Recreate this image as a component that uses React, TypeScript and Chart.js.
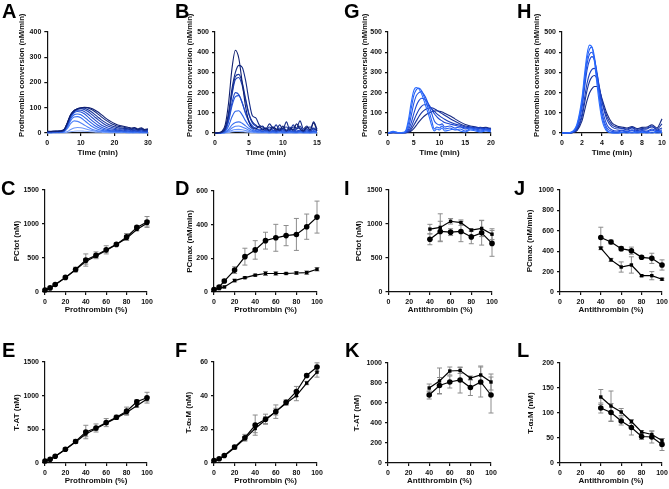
import React, { useEffect, useRef } from "react";
import { Chart, registerables } from "chart.js";
Chart.register(...registerables);

const FAMILY = "'Liberation Sans', Arial, Helvetica, 'DejaVu Sans', sans-serif";

// ---------- Panel A (prothrombin titration, time courses) ----------
const A_TIMES = [0,1,2,3,4,5,6,7,8,9,10,11,12,13,14,15,16,17,18,19,20,21,22,23,24,25,26,27,28,29,30];
const A_P5   = [0,1,0,2,1,1,3,5,7,8,8,7,6,5,4,3,3,2,2,1,2,1,1,2,1,0,1,1,0,1,0];
const A_P10  = [1,0,2,1,2,2,6,14,20,22,21,18,14,11,8,6,5,4,3,3,2,3,2,2,1,2,1,1,2,1,1];
const A_P20  = [2,1,3,2,2,4,18,38,48,46,40,32,24,17,12,9,7,6,5,4,4,3,4,3,2,3,2,3,2,2,2];
const A_P30  = [3,2,4,3,4,6,24,50,63,65,60,50,39,29,21,15,11,9,7,6,6,5,6,4,5,4,3,5,3,4,3];
const A_P40  = [4,3,5,4,3,8,28,58,72,75,72,63,52,41,31,23,17,13,10,9,8,7,8,6,7,5,6,5,4,6,4];
const A_P50  = [3,5,4,6,5,9,32,64,80,85,83,76,65,53,42,32,24,18,14,12,11,9,10,8,9,7,8,6,7,5,6];
const A_P60  = [5,4,6,5,7,10,35,68,84,90,90,85,76,65,54,43,33,26,20,17,14,12,13,10,12,9,10,8,11,7,8];
const A_P70  = [4,6,5,7,6,11,38,70,87,94,96,93,86,76,65,54,44,35,28,23,19,16,17,14,15,12,13,10,14,9,11];
const A_P80  = [6,5,7,6,8,12,40,72,88,95,98,98,93,85,75,64,53,44,36,30,25,21,20,18,17,14,16,12,15,11,13];
const A_P90  = [5,7,6,8,7,12,40,72,88,96,99,101,99,94,86,76,65,55,46,38,32,27,25,22,20,17,19,14,18,12,15];
const A_P100 = [7,6,8,7,9,14,42,74,89,96,100,102,101,98,92,84,74,63,53,45,38,32,29,26,23,20,22,16,21,14,17];
const A_SERIES = [A_P100, A_P90, A_P80, A_P70, A_P60, A_P50, A_P40, A_P30, A_P20, A_P10, A_P5];

// ---------- Panel B ----------
const B_TIMES = [0,0.5,1,1.5,2,2.5,3,3.5,4,4.5,5,5.5,6,6.5,7,7.5,8,8.5,9,9.5,10,10.5,11,11.5,12,12.5,13,13.5,14,14.5,15];
const B_1  = [0,0,0,1,3,6,8,8,7,5,4,2,1,1,1,1,0,1,0,1,0,1,0,1,0,1,0,0,1,0,0];
const B_2  = [0,0,0,2,6,13,17,18,16,12,8,5,3,2,2,2,1,2,1,2,1,1,2,1,1,2,1,1,1,2,1];
const B_3  = [0,0,1,3,11,25,33,35,30,22,14,8,5,4,3,4,2,3,2,4,2,2,3,2,2,3,2,2,1,3,2];
const B_4  = [0,0,1,4,18,40,52,55,48,35,22,12,8,6,5,6,4,5,3,6,4,3,5,4,3,5,3,4,2,5,3];
const B_5  = [0,0,2,8,35,80,108,110,90,60,35,20,12,10,8,10,6,8,5,10,6,5,8,6,4,8,5,6,4,8,5];
const B_6  = [0,1,3,12,58,135,180,185,150,100,60,35,20,15,10,15,10,12,8,15,10,8,12,10,6,12,8,10,6,12,8];
const B_7  = [0,1,3,15,65,150,200,190,150,95,55,30,25,15,20,10,20,15,10,20,15,10,15,20,10,15,5,15,10,20,10];
const B_8  = [0,1,4,20,85,190,265,275,235,160,90,50,35,30,20,25,15,30,10,25,20,15,30,10,20,25,15,20,10,25,15];
const B_9  = [0,1,4,22,90,200,280,290,250,170,95,55,40,25,35,15,30,20,40,10,25,30,15,40,20,35,10,25,30,20,15];
const B_10 = [0,1,5,25,100,220,300,335,325,260,160,85,75,40,30,20,45,25,15,40,20,55,15,30,25,60,20,35,15,55,20];
const B_11 = [0,2,8,40,150,320,410,370,250,130,55,25,20,35,15,25,10,30,20,15,35,10,25,15,45,20,10,30,15,50,10];
const B_SERIES = [B_11, B_10, B_9, B_8, B_7, B_6, B_5, B_4, B_3, B_2, B_1];

const BLUE_11 = ["#0f1f70","#132a86","#17349c","#1c3fb3","#2149c8","#2656da","#2d63e8","#3b72f2","#5284f8","#6b97fb","#88acfd"];

// ---------- Panel G (antithrombin titration) ----------
const G_TIMES = [0,1,2,3,3.5,4,4.5,5,5.5,6,6.5,7,7.5,8,8.5,9,9.5,10,10.5,11,12,13,14,15,16,17,18,19,20];
const G_AT40  = [0,8,2,3,15,70,150,210,225,218,195,160,120,80,35,10,20,15,25,10,15,20,10,5,15,10,5,10,5];
const G_AT50  = [0,5,1,2,10,50,120,185,215,222,210,180,145,105,60,20,30,25,35,20,25,15,20,10,20,15,10,15,10];
const G_AT60  = [0,4,2,1,6,30,85,145,185,200,205,190,165,130,95,60,45,40,45,30,35,25,30,20,25,20,15,20,15];
const G_AT70  = [0,3,1,2,4,18,50,95,135,160,172,170,158,138,118,95,80,68,60,52,45,38,32,25,30,20,25,15,20];
const G_AT80  = [0,2,1,1,3,10,30,60,90,115,132,140,140,132,120,108,95,85,76,68,55,45,38,30,25,30,20,25,15];
const G_AT90  = [0,3,1,2,2,6,18,38,60,82,100,112,120,124,125,120,112,104,96,88,72,58,45,35,30,25,28,20,25];
const G_AT100 = [0,2,1,1,2,4,10,22,38,55,70,83,93,100,105,108,110,108,104,98,85,70,55,42,35,30,25,28,20];
const G_SERIES = [G_AT40, G_AT50, G_AT60, G_AT70, G_AT80, G_AT90, G_AT100];

// ---------- Panel H ----------
const H_TIMES = [0,0.5,1,1.5,2,2.25,2.5,2.75,3,3.25,3.5,3.75,4,4.5,5,5.5,6,6.5,7,7.5,8,8.5,9,9.5,10];
const H_AT40  = [0,0,6,45,175,290,390,435,425,350,240,140,65,8,0,0,2,0,4,0,3,0,5,0,2];
const H_AT50  = [0,0,5,38,155,265,365,415,425,375,275,170,85,15,2,0,3,5,0,6,2,4,0,8,3];
const H_AT60  = [0,0,4,32,140,245,340,390,400,365,285,185,100,25,8,5,10,6,12,4,9,6,14,5,10];
const H_AT70  = [0,0,3,28,125,220,310,360,378,360,300,210,125,40,15,10,14,9,16,8,12,10,20,12,15];
const H_AT80  = [0,0,2,20,95,170,245,292,315,320,290,225,155,65,30,20,22,15,25,12,18,20,35,15,25];
const H_AT90  = [0,0,2,16,80,145,210,255,278,285,268,220,160,80,40,28,25,20,28,18,22,25,30,20,45];
const H_AT100 = [0,0,1,12,60,110,160,198,220,230,230,210,170,95,50,35,30,25,32,22,28,30,40,25,70];
const H_SERIES = [H_AT40, H_AT50, H_AT60, H_AT70, H_AT80, H_AT90, H_AT100];

const BLUE_7 = ["#2a6bff","#2660f5","#2254e6","#1e48d2","#1b3dba","#19339e","#172a82"];

// ---------- Summary panels ----------
const PT_LEVELS = [0,5,10,20,30,40,50,60,70,80,90,100];
const AT_LEVELS = [40,50,60,70,80,90,100];

const C_S1 = [30,60,110,215,330,470,540,620,700,810,950,1030];
const C_E1 = [5,8,10,20,35,90,50,60,20,50,20,80];
const C_S2 = [30,55,105,210,325,450,530,610,700,790,920,1010];
const C_E2 = [3,4,6,10,15,40,25,25,15,30,20,40];

const D_S1 = [15,30,65,130,210,250,305,322,335,342,388,445];
const D_E1 = [3,5,10,20,50,55,50,80,60,95,75,95];
const D_S2 = [12,20,30,68,85,100,110,110,110,113,115,135];
const D_E2 = [2,3,5,8,5,5,12,10,5,8,10,10];

const E_S1 = [30,55,100,205,320,460,520,600,680,770,910,970];
const E_E1 = [5,5,10,20,30,100,60,60,30,60,30,80];
const E_S2 = [25,50,95,200,310,430,510,590,670,750,850,950];
const E_E2 = [3,4,5,10,15,40,20,20,15,30,20,30];

const F_S1 = [1.5,2.5,4.5,9.5,15,22.5,26,30.5,36,42.5,52,57];
const F_E1 = [0.3,0.4,0.5,1,2,6,3,4,1.5,3,1,2.5];
const F_S2 = [1.2,2.2,4.2,9,14.5,20.5,25.5,30.5,35.5,40,47.5,54];
const F_E2 = [0.2,0.3,0.4,0.8,1,2.5,2,2,1,3,1,3];

const I_S1 = [925,950,1040,1020,910,935,850];
const I_E1 = [70,200,40,40,20,120,80];
const I_S2 = [775,890,880,890,810,870,715];
const I_E2 = [80,150,50,150,100,180,190];

const J_S1 = [535,490,425,405,340,330,265];
const J_E1 = [100,20,20,35,15,50,50];
const J_S2 = [430,315,245,265,160,160,125];
const J_E2 = [15,15,50,80,10,40,10];

const K_S1 = [750,820,920,925,850,880,810];
const K_E1 = [40,130,40,30,20,90,80];
const K_S2 = [680,775,810,830,755,810,680];
const K_E2 = [40,80,60,130,80,150,180];

const L_S1 = [132,114,102,83,62,57,45];
const L_E1 = [15,30,7,4,3,7,4];
const L_S2 = [110,101,84,71,53,52,37];
const L_E2 = [10,18,8,15,6,12,12];

type Summary = { x: number[]; s: number[][]; e: number[][]; styles: string[] };
type Panel = {
  L: number; T: number; R: number; B: number; tx: number; ty: number;
  xr: number[]; yr: number[]; xTitle: string; yTitle: string; yts: number; yAlign: string;
  curves?: { times: number[]; series: number[][]; colors: string[] };
  summary?: Summary;
};

const TIME = "Time (min)";
const PCONV = "Prothrombin conversion (nM/min)";
const PT = "Prothrombin (%)";
const AT = "Antithrombin (%)";

const PANELS: Panel[] = [
  { L: 47, T: 32, R: 148, B: 133, tx: 21.7, ty: 152.5, xr: [0, 30, 10], yr: [0, 400, 100], xTitle: TIME, yTitle: PCONV, yts: 7.7, yAlign: "start",
    curves: { times: A_TIMES, series: A_SERIES, colors: BLUE_11 } },
  { L: 215, T: 32, R: 317, B: 133, tx: 190, ty: 152.5, xr: [0, 15, 5], yr: [0, 500, 100], xTitle: TIME, yTitle: PCONV, yts: 7.7, yAlign: "start",
    curves: { times: B_TIMES, series: B_SERIES, colors: BLUE_11 } },
  { L: 388, T: 32, R: 491, B: 133, tx: 365, ty: 152.5, xr: [0, 20, 5], yr: [0, 500, 100], xTitle: TIME, yTitle: PCONV, yts: 7.7, yAlign: "start",
    curves: { times: G_TIMES, series: G_SERIES, colors: BLUE_7 } },
  { L: 562, T: 32, R: 662, B: 133, tx: 537, ty: 152.5, xr: [0, 10, 2], yr: [0, 500, 100], xTitle: TIME, yTitle: PCONV, yts: 7.7, yAlign: "start",
    curves: { times: H_TIMES, series: H_SERIES, colors: BLUE_7 } },

  { L: 45, T: 190, R: 147, B: 292, tx: 17, ty: 309.5, xr: [0, 100, 20], yr: [0, 1500, 500], xTitle: PT, yTitle: "PCtot (nM)", yts: 8, yAlign: "center",
    summary: { x: PT_LEVELS, s: [C_S1, C_S2], e: [C_E1, C_E2], styles: ["circle", "rect"] } },
  { L: 214, T: 191, R: 317, B: 292, tx: 190, ty: 309.5, xr: [0, 100, 20], yr: [0, 600, 200], xTitle: PT, yTitle: "PCmax (nM/min)", yts: 8, yAlign: "center",
    summary: { x: PT_LEVELS, s: [D_S1, D_S2], e: [D_E1, D_E2], styles: ["circle", "rect"] } },
  { L: 388, T: 190, R: 491, B: 292, tx: 358.5, ty: 309.5, xr: [0, 100, 20], yr: [0, 1500, 500], xTitle: AT, yTitle: "PCtot (nM)", yts: 8, yAlign: "center",
    summary: { x: AT_LEVELS, s: [I_S1, I_S2], e: [I_E1, I_E2], styles: ["rect", "circle"] } },
  { L: 560, T: 190, R: 662, B: 292, tx: 530, ty: 309.5, xr: [0, 100, 20], yr: [0, 1000, 200], xTitle: AT, yTitle: "PCmax (nM/min)", yts: 8, yAlign: "center",
    summary: { x: AT_LEVELS, s: [J_S1, J_S2], e: [J_E1, J_E2], styles: ["circle", "rect"] } },

  { L: 45, T: 362, R: 147, B: 463, tx: 17, ty: 481, xr: [0, 100, 20], yr: [0, 1500, 500], xTitle: PT, yTitle: "T-AT (nM)", yts: 8, yAlign: "center",
    summary: { x: PT_LEVELS, s: [E_S1, E_S2], e: [E_E1, E_E2], styles: ["circle", "rect"] } },
  { L: 214, T: 362, R: 317, B: 463, tx: 189, ty: 481, xr: [0, 100, 20], yr: [0, 60, 20], xTitle: PT, yTitle: "T-α\u2082M (nM)", yts: 8, yAlign: "center",
    summary: { x: PT_LEVELS, s: [F_S1, F_S2], e: [F_E1, F_E2], styles: ["circle", "rect"] } },
  { L: 388, T: 363, R: 491, B: 463, tx: 357, ty: 481, xr: [0, 100, 20], yr: [0, 1000, 200], xTitle: AT, yTitle: "T-AT (nM)", yts: 8, yAlign: "center",
    summary: { x: AT_LEVELS, s: [K_S1, K_S2], e: [K_E1, K_E2], styles: ["rect", "circle"] } },
  { L: 560, T: 363, R: 662, B: 463, tx: 531, ty: 481, xr: [0, 100, 20], yr: [0, 200, 50], xTitle: AT, yTitle: "T-α\u2082M (nM)", yts: 8, yAlign: "center",
    summary: { x: AT_LEVELS, s: [L_S1, L_S2], e: [L_E1, L_E2], styles: ["rect", "circle"] } },
];

const LETTERS = [
  { t: "A", x: 2, y: 1 }, { t: "B", x: 175, y: 1 }, { t: "G", x: 344, y: 1 }, { t: "H", x: 517, y: 1 },
  { t: "C", x: 1, y: 177.5 }, { t: "D", x: 175, y: 177.5 }, { t: "I", x: 344, y: 177.5 }, { t: "J", x: 514, y: 177.5 },
  { t: "E", x: 2, y: 339.5 }, { t: "F", x: 175, y: 339.5 }, { t: "K", x: 345, y: 339.5 }, { t: "L", x: 517, y: 339.5 },
];

function errorBars(errs: number[][]) {
  return {
    id: "errbars",
    beforeDatasetsDraw(chart: any) {
      const ctx = chart.ctx;
      const xs = chart.scales.x;
      const ys = chart.scales.y;
      ctx.save();
      ctx.strokeStyle = "#8c8c8c";
      ctx.lineWidth = 1;
      chart.data.datasets.forEach((ds: any, i: number) => {
        const e = errs[i];
        if (!e) return;
        ds.data.forEach((pt: any, j: number) => {
          const x = xs.getPixelForValue(pt.x);
          const y1 = ys.getPixelForValue(pt.y + e[j]);
          const y2 = ys.getPixelForValue(pt.y - e[j]);
          ctx.beginPath();
          ctx.moveTo(x, y1); ctx.lineTo(x, y2);
          ctx.moveTo(x - 2.5, y1); ctx.lineTo(x + 2.5, y1);
          ctx.moveTo(x - 2.5, y2); ctx.lineTo(x + 2.5, y2);
          ctx.stroke();
        });
      });
      ctx.restore();
    },
  };
}

function yTitlePlugin(text: string, size: number, align: string, x: number, startOffset: number) {
  return {
    id: "ytitle",
    afterDraw(chart: any) {
      const ctx = chart.ctx;
      const a = chart.chartArea;
      ctx.save();
      const y = align === "start" ? a.bottom + startOffset : (a.top + a.bottom) / 2;
      ctx.translate(x, y);
      ctx.rotate(-Math.PI / 2);
      ctx.font = `bold ${size}px ${FAMILY}`;
      ctx.fillStyle = "#111";
      ctx.textAlign = align === "start" ? "left" : "center";
      ctx.textBaseline = "middle";
      ctx.fillText(text, 0, 0);
      ctx.restore();
    },
  };
}

const PAD_TOP = 26;

function PanelChart({ p }: { p: Panel }) {
  const ref = useRef<HTMLCanvasElement>(null);
  const left = p.tx - 10;
  const top = p.T - PAD_TOP;
  const w = Math.round(p.R + 12 - left);
  const h = Math.round(p.ty + 10 - top);
  useEffect(() => {
    const yW = p.L - left;
    const xH = h - PAD_TOP - (p.B - p.T);
    const tickFont = { family: FAMILY, size: 7, weight: "bold" as const };
    const axisCommon = {
      type: "linear" as const,
      grid: { display: true, drawOnChartArea: false, drawTicks: true, tickLength: 3, color: "#111", lineWidth: 1.2 },
      border: { display: true, color: "#111", width: 1.2 },
    };
    let datasets: any[] = [];
    const plugins: any[] = [yTitlePlugin(p.yTitle, p.yts, p.yAlign, 10, 4)];
    if (p.curves) {
      const c = p.curves;
      datasets = c.series.map((vals, k) => ({
        data: c.times.map((t, i) => ({ x: t, y: vals[i] })),
        borderColor: c.colors[k],
        borderWidth: 1.1,
        pointRadius: 0,
        cubicInterpolationMode: "monotone",
        fill: false,
        clip: 2,
      }));
    } else if (p.summary) {
      const s = p.summary;
      datasets = s.s.map((vals, k) => ({
        data: s.x.map((x, i) => ({ x, y: vals[i] })),
        borderColor: "#000",
        borderWidth: 1.2,
        pointStyle: s.styles[k],
        pointRadius: s.styles[k] === "rect" ? 2.4 : 2.8,
        pointBackgroundColor: "#000",
        pointBorderColor: "#000",
        pointBorderWidth: 0,
        fill: false,
        clip: false,
      }));
      plugins.push(errorBars(s.e));
    }
    const fmt = (v: any) => String(v);
    const chart = new Chart(ref.current as HTMLCanvasElement, {
      type: "line",
      data: { datasets },
      plugins,
      options: {
        animation: false,
        responsive: false,
        devicePixelRatio: 1,
        events: [],
        layout: { padding: { top: PAD_TOP, right: 12, left: 0, bottom: 0 } },
        plugins: { legend: { display: false }, tooltip: { enabled: false } },
        scales: {
          x: {
            ...axisCommon,
            min: p.xr[0], max: p.xr[1],
            ticks: { stepSize: p.xr[2], font: tickFont, color: "#111", padding: 3, maxRotation: 0, autoSkip: false, callback: fmt },
            title: { display: true, text: p.xTitle, color: "#111", font: { family: FAMILY, size: 8, weight: "bold" }, padding: { top: 0, bottom: 10 - 0.6 * 8 } },
            afterFit: (sc: any) => { sc.height = xH; },
          },
          y: {
            ...axisCommon,
            min: p.yr[0], max: p.yr[1],
            ticks: { stepSize: p.yr[2], font: tickFont, color: "#111", padding: 3, callback: fmt },
            title: { display: false },
            afterFit: (sc: any) => { sc.width = yW; },
          },
        },
      } as any,
    });
    return () => chart.destroy();
  }, []);
  return <canvas ref={ref} width={w} height={h} style={{ position: "absolute", left, top, width: w, height: h }} />;
}

export default function App() {
  useEffect(() => {
    document.body.style.margin = "0";
  }, []);
  return (
    <div style={{ position: "fixed", left: 0, top: 0, width: 669, height: 489, background: "#fff", overflow: "hidden" }}>
      {PANELS.map((p, i) => <PanelChart key={i} p={p} />)}
      {LETTERS.map((l) => (
        <div key={l.t} style={{ position: "absolute", left: l.x, top: l.y, fontFamily: FAMILY, fontWeight: "bold", fontSize: 20, lineHeight: "20px", color: "#000" }}>{l.t}</div>
      ))}
    </div>
  );
}
